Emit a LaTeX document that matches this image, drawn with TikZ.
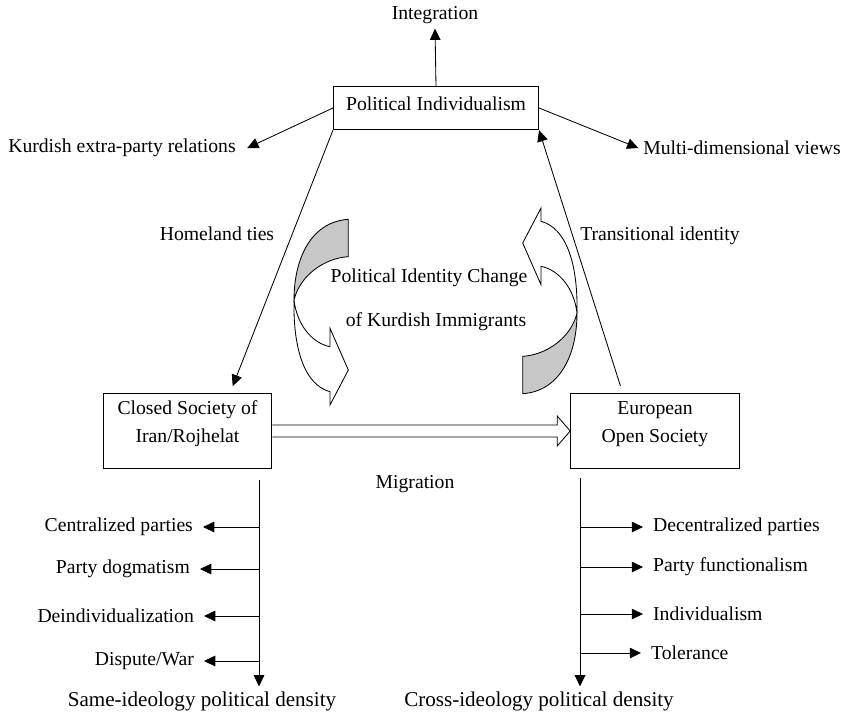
\documentclass[tikz,border=0pt]{standalone}
\usepackage{fontspec}
\setmainfont{Liberation Serif}
\usetikzlibrary{arrows.meta, positioning, calc}

% one twisted ribbon arrow, drawn in pixel units
\newcommand{\ribbonarrow}{%
  \filldraw[ribbon, fill=black!22] (348.3,219.3) .. controls (310,222) and (294,260) .. (294,300)
    .. controls (300,275) and (325,258) .. (348.3,256.7) -- cycle;
  \filldraw[ribbon, fill=white] (294,300) .. controls (297,325) and (312,343) .. (330,346.7)
    -- (330,328.3) -- (348.3,370) -- (330,405) -- (330,391.7)
    .. controls (305,385) and (293,350) .. (294,300) -- cycle;
}

\begin{document}
\begin{tikzpicture}[
    x=0.025cm, y=-0.025cm,
    every node/.style={font=\fontsize{14}{17}\selectfont},
    box/.style={draw, line width=0.6pt, align=center, inner sep=0pt},
    arr/.style={draw, line width=0.6pt, -{Triangle[length=8pt,width=7.5pt]}},
    branch/.style={arr, line width=0.5pt},
    ribbon/.style={line width=0.6pt, line join=miter},
    leftlab/.style={anchor=east, inner xsep=7pt},
    rightlab/.style={anchor=west, inner xsep=7pt},
    density/.style={font=\fontsize{15}{18}\selectfont}
]
    \useasboundingbox (0,0) rectangle (846,719);

    % Boxes
    \node[box, minimum width=146pt, minimum height=31pt, text depth=6pt] (indiv) at (436,108) {Political Individualism};
    \node[box, minimum width=120pt, minimum height=53pt, text depth=13pt, font=\fontsize{14}{20}\selectfont] (closed) at (187.5,431) {Closed Society of\\Iran/Rojhelat};
    \node[box, minimum width=120pt, minimum height=53pt, text depth=13pt, font=\fontsize{14}{20}\selectfont] (europe) at (655,431) {European\\Open Society};

    % Labels round the top box
    \node (integ) at (435,15) {Integration};
    \node[inner xsep=8pt] (kurd) at (122,148) {Kurdish extra-party relations};
    \node (multi) at (742,148) {Multi-dimensional views};
    \node (homeland) at (217,234) {Homeland ties};
    \node (trans) at (660,236) {Transitional identity};
    \node (change1) at (429,278) {Political Identity Change};
    \node (change2) at (436,322) {of Kurdish Immigrants};
    \node (migr) at (415,484) {Migration};

    \draw[arr] (indiv.north) -- (integ.south);
    \draw[arr] (indiv.west) -- (kurd.east);
    \draw[arr] (indiv.east) -- (multi.west);
    \draw[arr, shorten >=5.5pt] (indiv.south west) -- ($(closed.north west)!0.75!(closed.north east)$);
    \draw[arr, shorten <=5.5pt] ($(europe.north west)!0.31!(europe.north east)$) -- (indiv.south east);

    % Twisted arrows
    \ribbonarrow
    \begin{scope}[rotate around={180:(435.5,306.5)}]
        \ribbonarrow
    \end{scope}

    % Migration arrow
    \draw[line width=0.6pt, line join=miter] ($(closed.east)+(0,-6)$) -- ($(europe.west)+(-13,-6)$)
        -- ($(europe.west)+(-13,-15)$) -- (europe.west) -- ($(europe.west)+(-13,15)$)
        -- ($(europe.west)+(-13,6)$) -- ($(closed.east)+(0,6)$);

    % Left column
    \coordinate (ltop) at (259,480);
    \node[density] (same) at (202,701) {Same-ideology political density};
    \node[leftlab] (cent) at (203,527) {Centralized parties};
    \node[leftlab] (dogma) at (200,569) {Party dogmatism};
    \node[leftlab] (deind) at (204,616) {Deindividualization};
    \node[leftlab] (war) at (204,661) {Dispute/War};
    \draw[arr] (ltop) -- (same.north -| ltop);
    \foreach \lab in {cent, dogma, deind, war}
        \draw[branch] (\lab.east -| ltop) -- (\lab.east);

    % Right column
    \coordinate (rtop) at (580,478);
    \node[density] (cross) at (539,701) {Cross-ideology political density};
    \node[rightlab] (decent) at (643,527) {Decentralized parties};
    \node[rightlab] (funct) at (643,567) {Party functionalism};
    \node[rightlab] (indv) at (643,614) {Individualism};
    \node[rightlab] (toler) at (641,653) {Tolerance};
    \draw[arr] (rtop) -- (cross.north -| rtop);
    \foreach \lab in {decent, funct, indv, toler}
        \draw[branch] (\lab.west -| rtop) -- (\lab.west);
\end{tikzpicture}
\end{document}
